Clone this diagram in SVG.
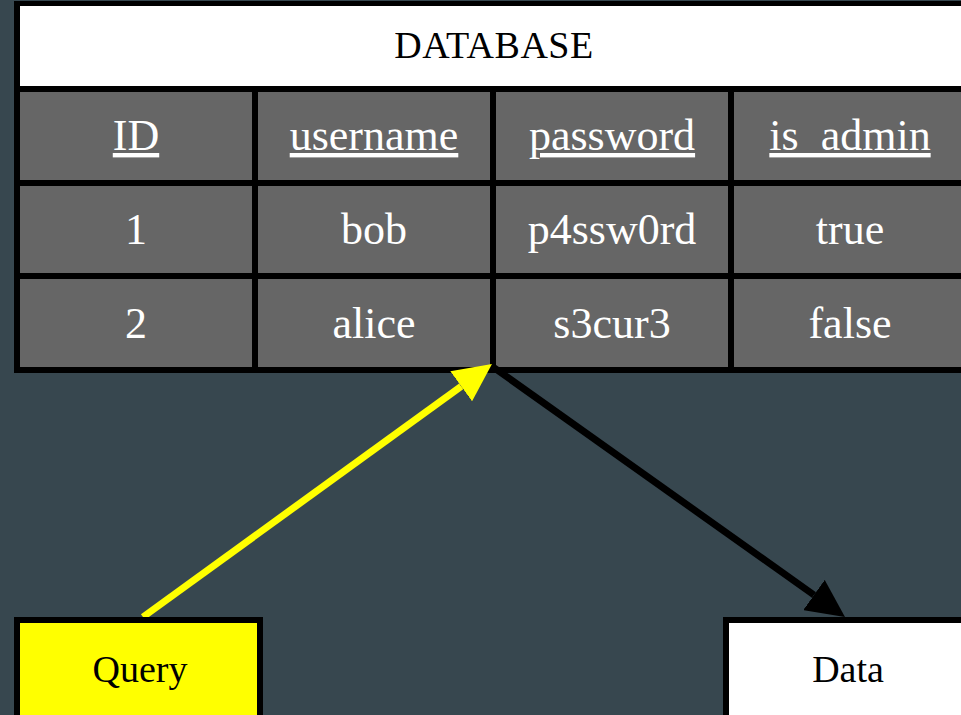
<svg xmlns="http://www.w3.org/2000/svg" width="961" height="715" viewBox="0 0 961 715">
  <style>
    text { font-family: "Liberation Serif", "DejaVu Serif", serif; text-anchor: middle; }
    .hdr { font-size: 44px; fill: #ffffff; text-decoration: underline; }
    .cell { font-size: 44px; fill: #ffffff; }
    .title { font-size: 38px; fill: #000000; letter-spacing: 0.5px; }
    .lbl { font-size: 38px; fill: #000000; }
    .grey { fill: #666666; }
    .box { stroke: #000000; stroke-width: 6; }
  </style>
  <defs>
    <marker id="headY" viewBox="0 0 38 37" refX="0" refY="18.5" markerWidth="38" markerHeight="37" markerUnits="userSpaceOnUse" orient="auto">
      <path d="M0,0 L38,18.5 L0,37 Z" fill="#ffff00"/>
    </marker>
    <marker id="headK" viewBox="0 0 38 37" refX="0" refY="18.5" markerWidth="38" markerHeight="37" markerUnits="userSpaceOnUse" orient="auto">
      <path d="M0,0 L38,18.5 L0,37 Z" fill="#000000"/>
    </marker>
  </defs>
  <rect x="0" y="0" width="961" height="715" fill="#37474f"/>

  <g id="database">
    <rect x="14" y="1" width="960" height="372" fill="#000000"/>
    <rect x="20" y="6" width="950" height="80" fill="#ffffff"/>
    <text class="title" x="494" y="58">DATABASE</text>
    <rect class="grey" x="20" y="92" width="232" height="88"/>
    <rect class="grey" x="258" y="92" width="232" height="88"/>
    <rect class="grey" x="496" y="92" width="232" height="88"/>
    <rect class="grey" x="734" y="92" width="232" height="88"/>
    <rect class="grey" x="20" y="186" width="232" height="87"/>
    <rect class="grey" x="258" y="186" width="232" height="87"/>
    <rect class="grey" x="496" y="186" width="232" height="87"/>
    <rect class="grey" x="734" y="186" width="232" height="87"/>
    <rect class="grey" x="20" y="279" width="232" height="88"/>
    <rect class="grey" x="258" y="279" width="232" height="88"/>
    <rect class="grey" x="496" y="279" width="232" height="88"/>
    <rect class="grey" x="734" y="279" width="232" height="88"/>
    <text class="hdr" x="136" y="150">ID</text>
    <text class="hdr" x="374" y="150">username</text>
    <text class="hdr" x="612" y="150">password</text>
    <text class="hdr" x="850" y="150">is_admin</text>
    <text class="cell" x="136" y="244">1</text>
    <text class="cell" x="374" y="244">bob</text>
    <text class="cell" x="612" y="244">p4ssw0rd</text>
    <text class="cell" x="850" y="244">true</text>
    <text class="cell" x="136" y="338">2</text>
    <text class="cell" x="374" y="338">alice</text>
    <text class="cell" x="612" y="338">s3cur3</text>
    <text class="cell" x="850" y="338">false</text>
  </g>

  <g id="connectors">
    <line x1="143" y1="617" x2="461.2" y2="386.3" stroke="#ffff00" stroke-width="7" marker-end="url(#headY)"/>
    <line x1="493" y1="367" x2="814" y2="595" stroke="#000000" stroke-width="7" marker-end="url(#headK)"/>
  </g>

  <g id="query">
    <rect class="box" x="17" y="620" width="243" height="120" fill="#ffff00"/>
    <text class="lbl" x="140" y="682">Query</text>
  </g>

  <g id="data">
    <rect class="box" x="726" y="620" width="260" height="120" fill="#ffffff"/>
    <text class="lbl" x="848" y="682">Data</text>
  </g>
</svg>
